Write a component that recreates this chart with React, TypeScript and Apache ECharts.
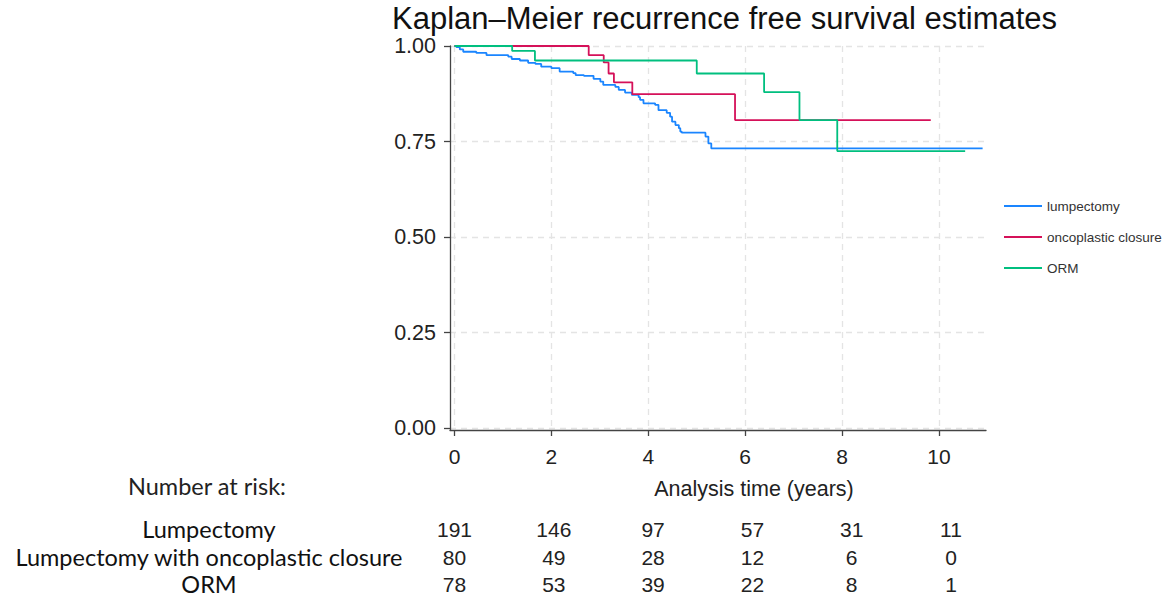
import React, { useEffect, useRef } from "react";
import * as echarts from "echarts";

// ---- data ----
const lumpTimes = [0, 0.04, 0.11, 0.18, 0.45, 0.66, 1.11, 1.18, 1.35, 1.52, 1.67, 1.79, 2.0, 2.17, 2.45, 2.5, 2.67, 2.87, 3.01, 3.07, 3.32, 3.39, 3.52, 3.66, 3.8, 3.83, 3.9, 4.14, 4.21, 4.38, 4.45, 4.49, 4.56, 4.63, 4.66, 4.69, 5.18, 5.24, 5.3, 10.9];
const lumpSurv = [1, 0.997, 0.991, 0.985, 0.982, 0.976, 0.972, 0.966, 0.962, 0.956, 0.953, 0.946, 0.942, 0.933, 0.929, 0.924, 0.922, 0.914, 0.907, 0.898, 0.893, 0.885, 0.878, 0.872, 0.866, 0.859, 0.85, 0.846, 0.832, 0.825, 0.815, 0.802, 0.793, 0.785, 0.776, 0.773, 0.763, 0.745, 0.732, 0.732];

const oncoTimes = [0, 2.77, 3.08, 3.18, 3.29, 3.67, 5.79, 9.83];
const oncoSurv = [1, 0.976, 0.957, 0.928, 0.905, 0.874, 0.806, 0.806];

const ormTimes = [0, 1.19, 1.66, 5.0, 6.39, 7.12, 7.9, 10.54];
const ormSurv = [1, 0.987, 0.962, 0.928, 0.879, 0.806, 0.725, 0.725];

const seriesNames = ["lumpectomy", "oncoplastic closure", "ORM"];
const seriesColors = ["#1a85ff", "#d51159", "#00bf7f"];

const xTicks = [0, 2, 4, 6, 8, 10];
const yTicks = [0, 0.25, 0.5, 0.75, 1];

const riskGroups = ["Lumpectomy", "Lumpectomy with oncoplastic closure", "ORM"];
const riskLump = [191, 146, 97, 57, 31, 11];
const riskOnco = [80, 49, 28, 12, 6, 0];
const riskOrm = [78, 53, 39, 22, 8, 1];

const titleText = "Kaplan–Meier recurrence free survival estimates";
const xName = "Analysis time (years)";
const riskHeader = "Number at risk:";

const SANS = "'Liberation Sans', Arial, sans-serif";
const LABEL_FONT = "Lato, 'Open Sans', sans-serif";

function pairs(t: number[], s: number[]) {
  return t.map((v, i) => [v, s[i]]);
}

export default function App() {
  const ref = useRef<HTMLDivElement>(null);
  useEffect(() => {
    if (!ref.current) return;
    const chart = echarts.init(ref.current, null, { renderer: "svg" });
    const axisLineStyle = { color: "#444", width: 1.3 };
    const gridStyle = { color: "#e4e4e4", type: [6, 5], width: 1.3 };
    const option: any = {
      animation: false,
      title: {
        text: titleText,
        left: 392,
        top: 3,
        padding: 0,
        textStyle: { fontFamily: SANS, fontSize: 31, fontWeight: "normal", color: "#111" },
      },
      grid: { left: 450, right: 182, top: 46, bottom: 174 },
      legend: {
        orient: "vertical",
        left: 1004,
        top: 199,
        icon: "rect",
        itemWidth: 38,
        itemHeight: 2,
        itemGap: 17,
        padding: 0,
        textStyle: { fontFamily: SANS, fontSize: 13.5, color: "#333" },
        data: seriesNames,
      },
      xAxis: {
        type: "value",
        min: -0.093,
        max: 10.97,
        axisLine: { show: true, onZero: false, lineStyle: axisLineStyle },
        axisTick: { show: true, customValues: xTicks, length: 6, lineStyle: axisLineStyle },
        axisLabel: { customValues: xTicks, margin: 16, fontSize: 21, color: "#222", fontFamily: SANS },
        splitLine: { show: true, lineStyle: gridStyle },
        name: xName,
        nameLocation: "middle",
        nameGap: 48,
        nameTextStyle: { fontFamily: SANS, fontSize: 21.5, color: "#222", padding: [0, 0, 0, 72] },
      },
      yAxis: {
        type: "value",
        min: -0.0052,
        max: 1,
        axisLine: { show: true, onZero: false, lineStyle: axisLineStyle },
        axisTick: { show: true, customValues: yTicks, length: 6, lineStyle: axisLineStyle },
        axisLabel: {
          customValues: yTicks,
          margin: 14,
          fontSize: 21.5,
          color: "#222",
          fontFamily: SANS,
          formatter: (v: number) => v.toFixed(2),
        },
        splitLine: { show: true, lineStyle: gridStyle },
      },
      series: [
        [lumpTimes, lumpSurv],
        [oncoTimes, oncoSurv],
        [ormTimes, ormSurv],
      ].map((d, i) => ({
        name: seriesNames[i],
        type: "line",
        step: "end",
        symbol: "none",
        color: seriesColors[i],
        itemStyle: { color: seriesColors[i] },
        lineStyle: { width: 1.8, color: seriesColors[i] },
        data: pairs(d[0], d[1]),
      })),
    };
    chart.setOption(option);

    const labelX = 209;
    const rowY = [529, 557, 584];
    const rows = [riskLump, riskOnco, riskOrm];
    const graphics: any[] = [
      {
        type: "text",
        x: labelX - 2,
        y: 486,
        style: { text: riskHeader, fontFamily: LABEL_FONT, fontSize: 23.5, lineHeight: 22, fill: "#222", align: "center", verticalAlign: "middle" },
      },
    ];
    riskGroups.forEach((g, r) => {
      graphics.push({
        type: "text",
        x: labelX,
        y: rowY[r],
        style: { text: g, fontFamily: LABEL_FONT, fontSize: 23.5, lineHeight: 22, fill: "#111", align: "center", verticalAlign: "middle" },
      });
      rows[r].forEach((n, c) => {
        const t = xTicks[c];
        const px = chart.convertToPixel({ xAxisIndex: 0 }, t) as number;
        graphics.push({
          type: "text",
          x: px + t * 1.2,
          y: rowY[r],
          style: { text: String(n), fontFamily: SANS, fontSize: 21, lineHeight: 22, fill: "#222", align: "center", verticalAlign: "middle" },
        });
      });
    });
    chart.setOption({ graphic: graphics });

    return () => chart.dispose();
  }, []);
  return (
    <div
      ref={ref}
      style={{ position: "fixed", left: 0, top: 0, width: 1168, height: 604, background: "#fff" }}
    />
  );
}
